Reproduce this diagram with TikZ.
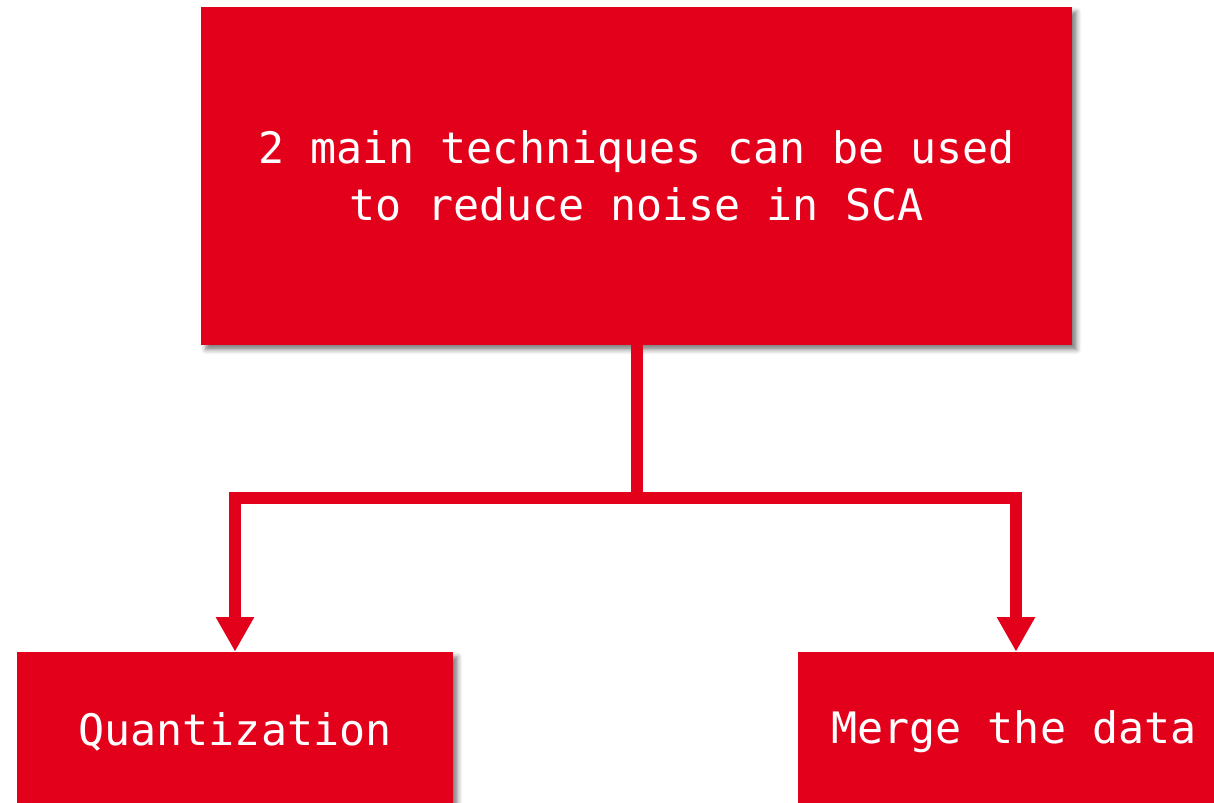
\documentclass[tikz,border=0pt]{standalone}
\usepackage{fontspec}
\setmonofont{DejaVu Sans Mono}
\usetikzlibrary{arrows.meta,shadows.blur}
\definecolor{brandred}{RGB}{227,0,27}
\begin{document}
\begin{tikzpicture}[x=0.75pt,y=-0.75pt,
  box/.style={fill=brandred, draw=none, rectangle, inner sep=0pt,
    text=white, align=center,
    font=\ttfamily\fontsize{32.5}{42.75}\selectfont,
    blur shadow={shadow xshift=3.5pt, shadow yshift=-3.5pt, shadow blur radius=3.5pt, shadow opacity=50}},
  label/.style={font=\ttfamily\fontsize{32.5}{42.75}\selectfont, text=white},
  conn/.style={draw=brandred, line width=9pt, line join=miter},
  tip/.style={-{Triangle[length=26pt,width=27pt]}}]
\useasboundingbox (0,0) rectangle (1214,803);
\node[box, minimum width=653.25pt, minimum height=253.5pt] (top) at (636.5,176)
  {2 main techniques can be used\\to reduce noise in SCA};
\node[box, minimum width=327pt, minimum height=120pt] (left) at (235,732) {};
\node[label] (lefttext) at (235,732) {Quantization};
\node[box, minimum width=327pt, minimum height=120pt] (right) at (1016,732) {};
\node[label] (righttext) at (1014,732) {Merge the data};
\coordinate (j) at (636.5,498);
\draw[conn] (top.south) -- (j);
\draw[conn, tip] (j) -| (left.north);
\draw[conn, tip] (j) -| (right.north);
\end{tikzpicture}
\end{document}
